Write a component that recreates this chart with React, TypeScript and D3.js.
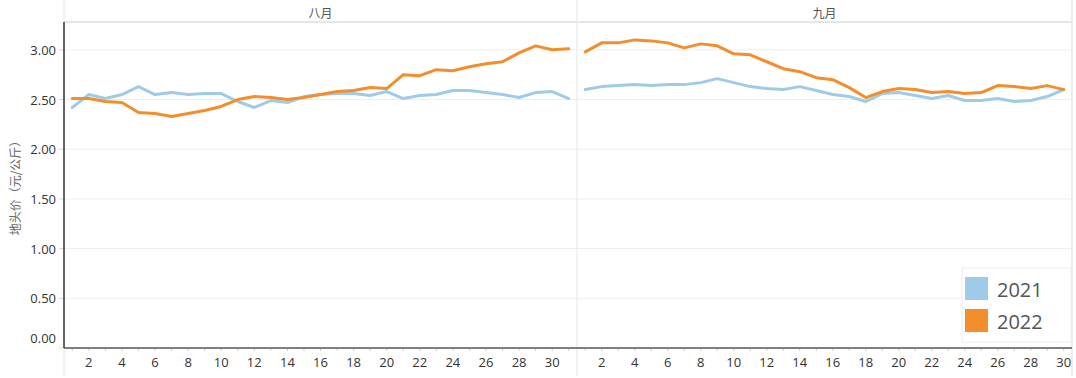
import React from "react";
import * as d3 from "d3";

const panels = ["八月", "九月"];
const augDays = d3.range(1, 32);
const sepDays = d3.range(1, 31);

const aug2021 = [2.42, 2.55, 2.51, 2.55, 2.63, 2.55, 2.57, 2.55, 2.56, 2.56, 2.48, 2.42, 2.49, 2.47, 2.53, 2.55,
  2.56, 2.56, 2.54, 2.58, 2.51, 2.54, 2.55, 2.59, 2.59, 2.57, 2.55, 2.52, 2.57, 2.58, 2.51];
const aug2022 = [2.51, 2.51, 2.48, 2.47, 2.37, 2.36, 2.33, 2.36, 2.39, 2.43, 2.50, 2.53, 2.52, 2.50, 2.52, 2.55,
  2.58, 2.59, 2.62, 2.61, 2.75, 2.74, 2.80, 2.79, 2.83, 2.86, 2.88, 2.97, 3.04, 3.00, 3.01];
const sep2021 = [2.60, 2.63, 2.64, 2.65, 2.64, 2.65, 2.65, 2.67, 2.71, 2.67, 2.63, 2.61, 2.60, 2.63, 2.59,
  2.55, 2.53, 2.48, 2.56, 2.57, 2.54, 2.51, 2.54, 2.49, 2.49, 2.51, 2.48, 2.49, 2.53, 2.60];
const sep2022 = [2.98, 3.07, 3.07, 3.10, 3.09, 3.07, 3.02, 3.06, 3.04, 2.96, 2.95, 2.88, 2.81, 2.78, 2.72,
  2.70, 2.62, 2.52, 2.58, 2.61, 2.60, 2.57, 2.58, 2.56, 2.57, 2.64, 2.63, 2.61, 2.64, 2.60];

const years = ["2021", "2022"];
const colors = ["#a0cbe8", "#f28e2b"];
const yTicks = [0, 0.5, 1, 1.5, 2, 2.5, 3];
const yTitle = "地头价（元/公斤）";

const FONT = "'Open Sans', 'Noto Sans', sans-serif";
const CJK = "'Noto Sans CJK SC', sans-serif";

export default function App() {
  const W = 1076, H = 378;
  const left = 64, mid = 577, right = 1072, top = 22, bottom = 348;
  const y = d3.scaleLinear().domain([0, 3.28]).range([bottom, top]);

  const panelDefs = [
    { name: panels[0], days: augDays, series: [aug2021, aug2022], x0: left, x1: mid },
    { name: panels[1], days: sepDays, series: [sep2021, sep2022], x0: mid, x1: right },
  ].map((p) => {
    const x = d3.scaleBand<number>().domain(p.days).range([p.x0, p.x1]).padding(0);
    return { ...p, x, cx: (d: number) => (x(d) as number) + x.bandwidth() / 2 };
  });

  return (
    <svg width={W} height={H} style={{ position: "absolute", left: 0, top: 0, background: "#fff" }}>
      {/* gridlines */}
      {yTicks.filter((t) => t > 0).map((t) => (
        <line key={t} x1={left} x2={right} y1={y(t)} y2={y(t)} stroke="#eeeeee" strokeWidth={1} />
      ))}
      {/* header bottom line */}
      <line x1={left} x2={right} y1={top} y2={top} stroke="#e6e6e6" strokeWidth={2} />
      {/* vertical separators */}
      <line x1={left} x2={left} y1={0} y2={376} stroke="#e6e6e6" strokeWidth={1} />
      <line x1={mid} x2={mid} y1={0} y2={376} stroke="#e6e6e6" strokeWidth={1} />
      <line x1={right} x2={right} y1={0} y2={376} stroke="#e6e6e6" strokeWidth={1.5} />

      {panelDefs.map((p) => (
        <g key={p.name}>
          <text x={(p.x0 + p.x1) / 2} y={12} textAnchor="middle" dominantBaseline="central"
            fontFamily={CJK} fontSize={12} fill="#555">{p.name}</text>
          {p.days.map((d) => (
            <line key={"t" + d} x1={p.cx(d)} x2={p.cx(d)} y1={bottom} y2={bottom + 3} stroke="#d0d0d0" />
          ))}
          {p.days.filter((d) => d % 2 === 0).map((d) => (
            <text key={"l" + d} x={p.cx(d)} y={362} textAnchor="middle" dominantBaseline="central"
              fontFamily={FONT} fontSize={13} fill="#333">{d}</text>
          ))}
          {p.series.map((s, i) => {
            const line = d3.line<number>().x((_, j) => p.cx(p.days[j])).y((v) => y(v));
            return <path key={i} d={line(s) || ""} fill="none" stroke={colors[i]} strokeWidth={3}
              strokeLinejoin="round" strokeLinecap="round" />;
          })}
        </g>
      ))}

      {/* y axis */}
      {yTicks.map((t) => (
        <g key={t}>
          <line x1={left - 5} x2={left} y1={y(t)} y2={y(t)} stroke="#d8d8d8" />
          <text x={56} y={t === 0 ? y(t) - 10 : y(t)} textAnchor="end" dominantBaseline="central"
            fontFamily={FONT} fontSize={13} fill="#333">{t.toFixed(2)}</text>
        </g>
      ))}
      <line x1={left} x2={left} y1={top} y2={bottom} stroke="#333" strokeWidth={1.5} />
      <line x1={left} x2={right} y1={bottom} y2={bottom} stroke="#555" strokeWidth={1.5} />
      <text transform={`translate(14,${(top + bottom) / 2}) rotate(-90)`} textAnchor="middle"
        dominantBaseline="central" fontFamily={CJK} fontSize={12} fill="#666">{yTitle}</text>

      {/* legend */}
      <rect x={962} y={268} width={109} height={74} fill="#fff" stroke="#ececec" />
      {years.map((yr, i) => (
        <g key={yr}>
          <rect x={965} y={277 + i * 32} width={23} height={23} fill={colors[i]} />
          <text x={997} y={289 + i * 32} dominantBaseline="central" fontFamily={FONT} fontSize={20} fill="#555">{yr}</text>
        </g>
      ))}
    </svg>
  );
}
